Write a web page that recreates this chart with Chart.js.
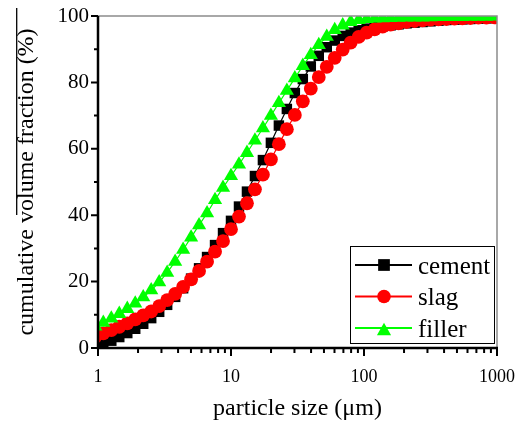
<!DOCTYPE html>
<html><head><meta charset="utf-8">
<script src="https://cdn.jsdelivr.net/npm/chart.js@4/dist/chart.umd.min.js"></script>
<style>html,body{margin:0;padding:0;background:#fff;overflow:hidden}canvas{display:block}</style>
</head><body>
<canvas id="c" width="522" height="426"></canvas>
<script>
// particle size classes (µm)
const sizes = [0.955,1.096,1.259,1.445,1.660,1.905,2.188,2.512,2.884,3.311,3.802,4.365,5.012,5.754,6.607,7.586,8.710,10,11.482,13.183,15.136,17.378,19.953,22.909,26.303,30.200,34.674,39.811,45.709,52.481,60.256,69.183,79.433,91.201,104.71,120.23,138.04,158.49,181.97,208.93,239.88,275.42,316.23,363.08,416.87,478.63,549.54,630.96,724.44,831.76,954.99,1096.5];
const cement = [0.4,1.2,2.2,3.3,4.5,5.8,7.3,9.0,10.9,13.0,15.4,18.0,20.9,24.0,27.4,31.0,34.6,38.3,42.6,47.1,51.8,56.6,61.8,67.0,72.0,76.8,81.0,84.8,88.0,90.6,92.6,94.0,95.0,95.7,96.2,96.6,96.9,97.2,97.5,97.8,98.0,98.2,98.4,98.6,98.8,98.9,99.0,99.1,99.2,99.3,99.4,99.5];
const slag = [3.4,4.4,5.4,6.4,7.4,8.6,9.8,11.0,12.6,14.4,16.3,18.4,20.7,23.2,26.0,29.0,32.2,35.8,39.6,43.6,47.8,52.2,56.8,61.4,65.9,70.2,74.3,78.1,81.6,84.7,87.4,89.9,92.0,93.7,95.0,96.0,96.8,97.4,97.8,98.2,98.5,98.7,98.9,99.0,99.1,99.2,99.3,99.4,99.5,99.5,99.6,99.6];
const filler = [6.5,7.6,8.9,10.3,11.8,13.4,15.3,17.4,19.8,22.7,26.0,29.6,33.3,37.0,40.6,44.6,48.3,51.8,55.3,58.8,62.5,66.2,70.0,73.8,77.5,81.3,85.0,88.3,91.3,93.8,95.8,97.2,98.2,98.8,99.1,99.25,99.35,99.45,99.5,99.55,99.6,99.6,99.65,99.7,99.7,99.75,99.75,99.8,99.8,99.8,99.85,99.85];
const seriesNames = ['cement','slag','filler'];
const xTicks = [1,10,100,1000];
const xMinorTicks = [2,3,4,5,6,7,8,9,20,30,40,50,60,70,80,90,200,300,400,500,600,700,800,900];
const yTicks = [0,20,40,60,80,100];
const yMinorTicks = [10,30,50,70,90];

const SERIF = "'Liberation Serif','Times New Roman',serif";
const toPts = arr => sizes.map((x,i)=>({x:x, y:arr[i]}));

function ds(label, data, color, style, r, order){
  return {label, data: toPts(data), borderColor: color, backgroundColor: color,
    pointBackgroundColor: color, pointBorderWidth: 0, pointStyle: style, pointRadius: r,
    borderWidth: 1.2, tension: 0, clip: 0, order: order};
}

const framePlugin = {
  id: 'frame',
  afterDraw(chart){
    const ctx = chart.ctx, ca = chart.chartArea;
    const xs = chart.scales.x, ys = chart.scales.y;
    ctx.save();
    ctx.strokeStyle = '#8c8c8c'; ctx.lineWidth = 1.5;
    ctx.beginPath(); ctx.moveTo(ca.left, ca.top); ctx.lineTo(ca.right, ca.top); ctx.lineTo(ca.right, ca.bottom); ctx.stroke();
    ctx.strokeStyle = '#000'; ctx.lineWidth = 2.5;
    ctx.beginPath(); ctx.moveTo(ca.left, ca.top); ctx.lineTo(ca.left, ca.bottom); ctx.lineTo(ca.right+1, ca.bottom); ctx.stroke();
    ctx.lineWidth = 2;
    ctx.beginPath();
    yTicks.forEach(v=>{const p=ys.getPixelForValue(v); ctx.moveTo(ca.left-7,p); ctx.lineTo(ca.left,p);});
    yMinorTicks.forEach(v=>{const p=ys.getPixelForValue(v); ctx.moveTo(ca.left-4,p); ctx.lineTo(ca.left,p);});
    xTicks.forEach(v=>{const p=xs.getPixelForValue(v); ctx.moveTo(p,ca.bottom); ctx.lineTo(p,ca.bottom+8);});
    xMinorTicks.forEach(v=>{const p=xs.getPixelForValue(v); ctx.moveTo(p,ca.bottom); ctx.lineTo(p,ca.bottom+5);});
    ctx.stroke();
    ctx.lineWidth = 1.3;
    ctx.beginPath(); ctx.moveTo(16.7, 8); ctx.lineTo(16.7, 215); ctx.stroke();
    const bx = 350, by = 246, bw = 144, bh = 97;
    ctx.fillStyle = '#fff'; ctx.fillRect(bx, by, bw, bh);
    ctx.lineWidth = 1; ctx.strokeStyle = '#000';
    ctx.strokeRect(bx+0.5, by+0.5, bw, bh);
    const rows = [265, 296.5, 328];
    const mr = {rect: 8.3, circle: 6.8, triangle: 8.2};
    chart.data.datasets.forEach((d,i)=>{
      const y = rows[i];
      ctx.strokeStyle = d.borderColor; ctx.lineWidth = 2;
      ctx.beginPath(); ctx.moveTo(355, y); ctx.lineTo(412, y); ctx.stroke();
      ctx.fillStyle = d.backgroundColor;
      const r = mr[d.pointStyle];
      const yy = d.pointStyle === 'triangle' ? y + 0.25*r + 1 : y;
      Chart.helpers.drawPoint(ctx, {pointStyle: d.pointStyle, rotation: 0, radius: r, borderWidth: 0}, 384, yy);
      ctx.fillStyle = '#000'; ctx.font = '25px ' + SERIF;
      ctx.textAlign = 'left'; ctx.textBaseline = 'alphabetic';
      ctx.fillText(d.label, 418, y + 8.5);
    });
    ctx.restore();
  }
};

new Chart(document.getElementById('c'), {
  type: 'line',
  data: { datasets: [
    ds(seriesNames[0], cement, '#000000', 'rect', 7.4, 3),
    ds(seriesNames[1], slag, '#ff0000', 'circle', 6.9, 2),
    ds(seriesNames[2], filler, '#00ff00', 'triangle', 8.2, 1)
  ]},
  options: {
    responsive: false, animation: false, devicePixelRatio: 1,
    layout: { padding: {left: 0, right: 25, top: 16, bottom: 0} },
    plugins: { legend: {display: false}, tooltip: {enabled: false} },
    scales: {
      x: {
        type: 'logarithmic', min: 1, max: 1000,
        afterBuildTicks: s => { s.ticks = xTicks.map(v=>({value: v})); },
        afterFit: s => { s.height = 78; s.paddingLeft = 0; s.paddingRight = 0; },
        grid: {display: false, drawTicks: false}, border: {display: false},
        ticks: {color: '#000', font: {family: SERIF, size: 18}, padding: 18, maxRotation: 0, autoSkip: false,
                callback: v => String(v)},
        title: {display: true, text: 'particle size (μm)', color: '#000', font: {family: SERIF, size: 24}, padding: {top: 0, bottom: 3}}
      },
      y: {
        type: 'linear', min: 0, max: 100,
        afterBuildTicks: s => { s.ticks = yTicks.map(v=>({value: v})); },
        afterFit: s => { s.width = 98; s.paddingTop = 0; s.paddingBottom = 0; },
        grid: {display: false, drawTicks: false}, border: {display: false},
        ticks: {color: '#000', font: {family: SERIF, size: 21}, padding: 9},
        title: {display: true, text: 'cumulative volume fraction (%)', color: '#000', font: {family: SERIF, size: 24}, padding: {top: 12, bottom: 0}}
      }
    }
  },
  plugins: [framePlugin]
});
</script>
</body></html>
